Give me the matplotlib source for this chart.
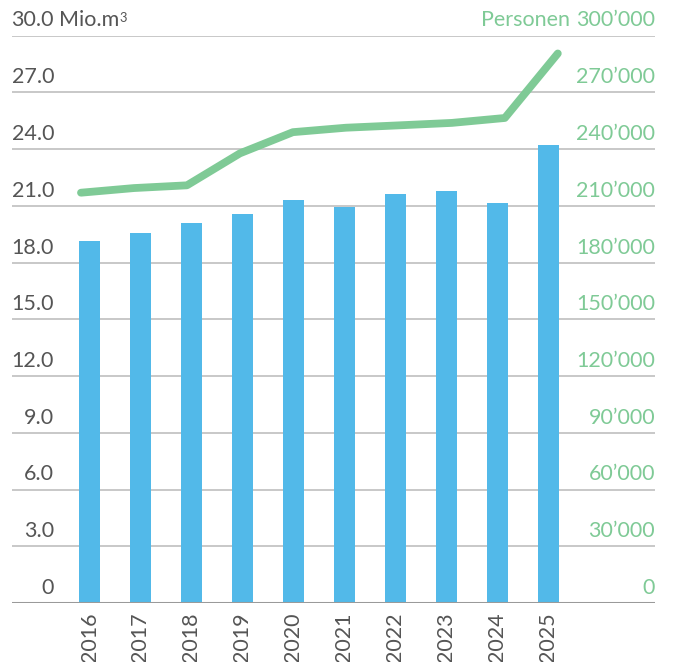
import matplotlib
matplotlib.use("Agg")
import matplotlib.pyplot as plt
import matplotlib.transforms as mtransforms
import numpy as np

years = ["2016", "2017", "2018", "2019", "2020", "2021", "2022", "2023", "2024", "2025"]
water = [19.12, 19.55, 20.07, 20.55, 21.29, 20.92, 21.61, 21.76, 21.13, 24.19]  # Mio. m3
persons = [216900, 219350, 220800, 237700, 248900, 251250, 252500, 253800, 256400, 290500]
left_ticks = [0, 3, 6, 9, 12, 15, 18, 21, 24, 27, 30]
left_labels = ["0", "3.0", "6.0", "9.0", "12.0", "15.0", "18.0", "21.0", "24.0", "27.0", "30.0"]
right_ticks = [0, 30000, 60000, 90000, 120000, 150000, 180000, 210000, 240000, 270000, 300000]
right_labels = ["0", "30’000", "60’000", "90’000", "120’000", "150’000", "180’000",
                "210’000", "240’000", "270’000", "300’000"]

BLUE = "#52B9E9"
GREEN = "#7FCA96"
GRAY_TXT = "#555555"
GRID = "#C4C4C4"

plt.rcParams['font.family'] = ['Lato', 'DejaVu Sans']

W, H = 673, 662
fig = plt.figure(figsize=(W / 100, H / 100), dpi=100)
ax = fig.add_axes([12 / W, 1 - 603 / H, (655 - 12) / W, (603 - 35.5) / H])

x = np.arange(len(years))
ax.bar(x, water, width=0.41, color=BLUE, zorder=2)
ax.set_xlim(-1.52, 11.09)
ax.set_ylim(0, 30)

for s in ax.spines.values():
    s.set_visible(False)
ax.set_xticks([])
ax.set_yticks([])

for t in left_ticks[1:]:
    ax.axhline(t, color=GRID, lw=1.3, zorder=1)
ax.axhline(0, color="#9A9A9A", lw=2.2, zorder=3)

ax2 = ax.twinx()
ax2.set_ylim(0, 300000)
ax2.set_xlim(ax.get_xlim())
for s in ax2.spines.values():
    s.set_visible(False)
ax2.set_yticks([])
xl = x * 1.039 - 0.167
ax2.plot(xl, persons, color=GREEN, lw=5.6, solid_capstyle='round',
         solid_joinstyle='round', zorder=4)

fs = 15.5
tl = mtransforms.blended_transform_factory(fig.transFigure, ax.transData)
tr = mtransforms.offset_copy(tl, fig=fig, x=0, y=5, units='dots')
for t, lab in zip(left_ticks, left_labels):
    ax.text(54 / W, t, lab, transform=tr, ha='right', va='bottom',
            fontsize=fs, color=GRAY_TXT)
ax.text(59 / W, 30, "Mio.m", transform=tr, ha='left', va='bottom',
        fontsize=fs, color=GRAY_TXT)
ax.text(119.5 / W, 30, "3", transform=mtransforms.offset_copy(tl, fig=fig, x=0, y=11, units='dots'),
        ha='left', va='bottom', fontsize=fs * 0.6, color=GRAY_TXT)

tr2 = mtransforms.offset_copy(
    mtransforms.blended_transform_factory(fig.transFigure, ax2.transData),
    fig=fig, x=0, y=5, units='dots')
for t, lab in zip(right_ticks, right_labels):
    ax2.text(655 / W, t, lab, transform=tr2, ha='right', va='bottom',
             fontsize=fs, color=GREEN)
ax2.text(570 / W, 300000, "Personen", transform=tr2, ha='right', va='bottom',
         fontsize=fs, color=GREEN)

ty = mtransforms.offset_copy(ax.transData, fig=fig, x=0, y=-9, units='dots')
for xi, yr in zip(x, years):
    ax.text(xi, 0, yr, transform=ty, rotation=90, ha='center', va='top',
            fontsize=fs, color=GRAY_TXT, clip_on=False)

fig.savefig("out.png", dpi=100)
